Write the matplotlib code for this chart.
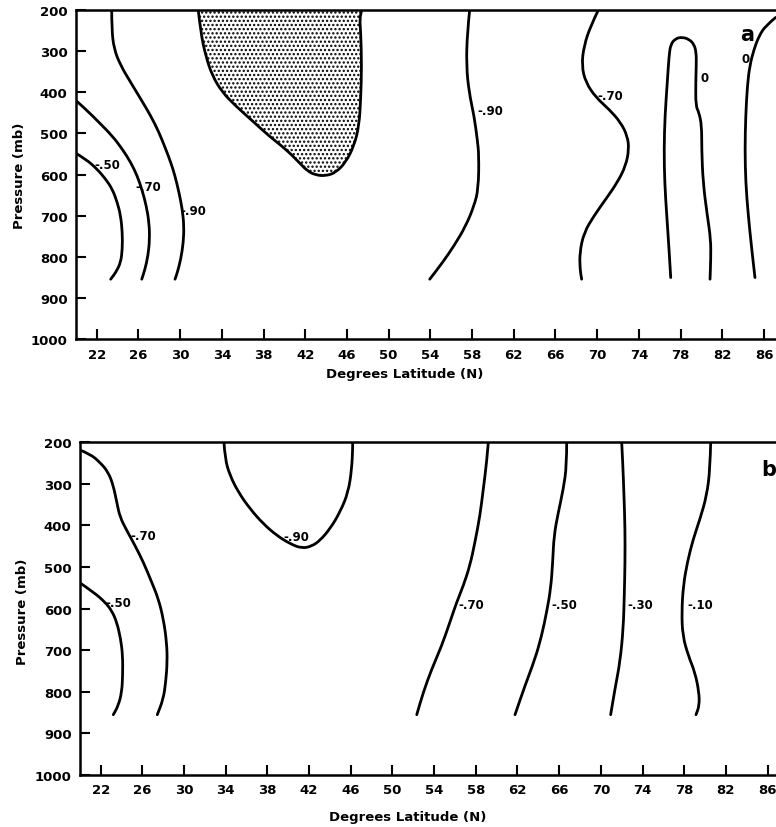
import matplotlib
matplotlib.use("Agg")
import matplotlib.pyplot as plt
from matplotlib.path import Path
from matplotlib.patches import PathPatch

plt.rcParams['font.family'] = 'DejaVu Sans'
plt.rcParams['font.weight'] = 'bold'
plt.rcParams['hatch.linewidth'] = 1.1

# axis ticks
lat_ticks = list(range(22, 87, 4))
p_ticks = list(range(200, 1001, 100))

# ---- panel a : isolines (latitude, pressure mb)
a50_lat = [19.8, 20.95, 22.06, 22.86, 23.5, 23.98, 24.3, 24.46, 24.46, 24.3, 23.82, 23.34]
a50_p = [545, 562, 587, 611, 635, 668, 700, 741, 781, 814, 838, 854]

a70_lat = [19.8, 20.95, 22.22, 23.5, 24.46, 25.26, 25.89, 26.37, 26.76, 27.02, 27.08, 26.92, 26.63, 26.32]
a70_p = [415, 441, 473, 506, 538, 570, 603, 639, 676, 716, 757, 797, 830, 854]

a90w_lat = [23.44, 23.44, 23.66, 24.30, 25.26, 26.22, 27.18, 27.97, 28.62, 29.10, 29.51, 29.89,
            30.21, 30.37, 30.31, 30.06, 29.73, 29.51]
a90w_p = [200, 246, 295, 335, 376, 416, 457, 497, 538, 570, 603, 643, 684, 725, 765, 806, 838, 854]

# shaded core (< -.90)
core_lat = [31.74, 31.97, 32.45, 33.09, 34.05, 35.33, 36.92, 38.52, 40.13, 41.40, 42.20, 43.00,
            43.96, 44.92, 45.88, 46.68, 47.16, 47.32, 47.41, 47.32, 47.22, 47.41]
core_p = [200, 254, 311, 360, 400, 433, 469, 506, 538, 570, 591, 601,
          603, 595, 570, 530, 481, 416, 335, 254, 222, 200]

a90e_lat = [57.77, 57.54, 57.45, 57.71, 58.19, 58.50, 58.66, 58.60, 58.19, 57.39, 56.27, 55.15, 53.94]
a90e_p = [200, 254, 335, 400, 457, 514, 554, 635, 676, 725, 773, 814, 854]

a70e_lat = [70.11, 69.38, 68.73, 68.51, 68.90, 69.86, 71.13, 72.25, 72.89, 73.05, 72.73, 71.93,
            70.81, 69.69, 68.73, 68.32, 68.35, 68.51]
a70e_p = [200, 238, 287, 335, 376, 412, 441, 473, 506, 538, 579, 619, 660, 700, 741, 789, 830, 854]

a0_lat = [77.05, 76.89, 76.67, 76.47, 76.41, 76.50, 76.72, 76.89, 77.05, 77.53, 78.16, 78.80,
          79.28, 79.50, 79.50, 79.45, 79.45, 79.76, 80.02, 80.02, 80.15, 80.56, 80.89, 80.89, 80.82]
a0_p = [850, 781, 700, 619, 538, 457, 376, 311, 283, 269, 266, 271,
        283, 303, 335, 376, 433, 449, 481, 538, 619, 700, 757, 806, 854]

a0e_lat = [87.12, 86.16, 85.52, 85.04, 84.63, 84.40, 84.24, 84.17, 84.24, 84.49, 84.82, 85.13]
a0e_p = [218, 238, 263, 295, 335, 384, 457, 538, 619, 700, 781, 850]

a_labels = ['-.50', '-.70', '-.90', '-.90', '-.70', '0', '0']
a_label_lat = [21.74, 25.74, 30.06, 58.5, 70.0, 79.9, 83.86]
a_label_p = [576, 630, 688, 443, 408, 365, 319]

# ---- panel b
b70w_lat = [19.95, 20.97, 21.93, 22.73, 23.21, 23.54, 23.85, 24.50, 25.29, 26.09, 26.89, 27.53,
            28.01, 28.33, 28.39, 28.24, 28.01, 27.43]
b70w_p = [218, 228, 248, 272, 304, 344, 380, 412, 448, 488, 536, 576, 624, 680, 728, 777, 817, 855]

b50w_lat = [20.01, 21.29, 22.41, 23.06, 23.54, 23.92, 24.11, 24.11, 24.02, 23.69, 23.21]
b50w_p = [538, 560, 584, 605, 632, 673, 713, 761, 801, 833, 855]

b90_lat = [33.83, 33.93, 34.41, 35.21, 36.33, 37.60, 38.89, 40.17, 41.29, 42.25, 43.05, 44.01,
           44.97, 45.76, 46.09, 46.18, 46.18]
b90_p = [200, 240, 280, 320, 360, 396, 424, 444, 455, 450, 436, 408, 368, 320, 264, 216, 200]

b70e_lat = [59.20, 59.04, 58.72, 58.40, 57.92, 57.44, 56.80, 56.17, 55.52, 54.73, 53.77, 52.96, 52.33]
b70e_p = [200, 248, 312, 376, 440, 496, 545, 584, 632, 689, 745, 801, 855]

b50e_lat = [66.72, 66.72, 66.40, 65.92, 65.50, 65.38, 65.19, 64.80, 64.32, 63.68, 62.72, 61.76]
b50e_p = [200, 256, 312, 368, 424, 488, 552, 608, 665, 721, 785, 855]

b30_lat = [72.0, 72.10, 72.22, 72.32, 72.32, 72.25, 72.15, 71.84, 71.36, 70.94]
b30_p = [200, 248, 328, 408, 488, 569, 648, 728, 792, 855]

b10_lat = [80.54, 80.48, 80.16, 79.52, 78.87, 78.30, 77.91, 77.76, 77.85, 78.39, 79.03, 79.42, 79.45, 79.13]
b10_p = [200, 264, 328, 384, 432, 488, 545, 608, 665, 713, 753, 801, 833, 855]

b_labels = ['-.70', '-.50', '-.90', '-.70', '-.50', '-.30', '-.10']
b_label_lat = [24.82, 22.41, 39.52, 56.32, 65.28, 72.58, 78.30]
b_label_p = [424, 586, 427, 590, 590, 590, 590]

W, H = 776, 828
fig = plt.figure(figsize=(W / 100, H / 100), dpi=100)


def setup(ax):
    ax.set_xlim(20, 90)
    ax.set_ylim(1000, 200)
    ax.set_xticks(lat_ticks)
    ax.set_yticks(p_ticks)
    ax.tick_params(direction='in', length=7, width=1.5, labelsize=9.5, pad=6)
    ax.spines['right'].set_visible(False)
    for s in ['left', 'bottom', 'top']:
        ax.spines[s].set_linewidth(1.8)
    for lab in ax.get_xticklabels() + ax.get_yticklabels():
        lab.set_fontweight('bold')


def smooth(x, y):
    # quadratic bezier through the midpoints, read points used as control points
    pts = list(zip(x, y))
    verts = [pts[0]]
    codes = [Path.MOVETO]
    for i in range(1, len(pts) - 1):
        mid = ((pts[i][0] + pts[i + 1][0]) / 2, (pts[i][1] + pts[i + 1][1]) / 2)
        verts += [pts[i], mid]
        codes += [Path.CURVE3, Path.CURVE3]
    verts.append(pts[-1])
    codes.append(Path.LINETO)
    return Path(verts, codes)


def line(ax, x, y):
    ax.add_patch(PathPatch(smooth(x, y), fill=False, edgecolor='black', lw=2.0,
                           capstyle='round', joinstyle='round'))


# panel a
axa = fig.add_axes([75.85 / W, (H - 340.3) / H, 729.9 / W, 329.3 / H])
setup(axa)
axa.add_patch(PathPatch(smooth(core_lat, core_p), facecolor='white', edgecolor='black',
                        hatch='....', linewidth=0))
line(axa, core_lat, core_p)
for x, y in [(a50_lat, a50_p), (a70_lat, a70_p), (a90w_lat, a90w_p), (a90e_lat, a90e_p),
             (a70e_lat, a70e_p), (a0_lat, a0_p), (a0e_lat, a0e_p)]:
    line(axa, x, y)
for t, x, y in zip(a_labels, a_label_lat, a_label_p):
    axa.text(x, y, t, fontsize=8.5, fontweight='bold', ha='left', va='center')
axa.text(84.4, 258, 'a', fontsize=15, fontweight='bold', ha='center', va='center')

# panel b
axb = fig.add_axes([79.86 / W, (H - 776) / H, 729.4 / W, 332.7 / H])
setup(axb)
for x, y in [(b70w_lat, b70w_p), (b50w_lat, b50w_p), (b90_lat, b90_p), (b70e_lat, b70e_p),
             (b50e_lat, b50e_p), (b30_lat, b30_p), (b10_lat, b10_p)]:
    line(axb, x, y)
for t, x, y in zip(b_labels, b_label_lat, b_label_p):
    axb.text(x, y, t, fontsize=8.5, fontweight='bold', ha='left', va='center')
axb.text(86.14, 263, 'b', fontsize=15, fontweight='bold', ha='center', va='center')

# axis titles
fig.text(405 / W, 1 - 375 / H, 'Degrees Latitude (N)', fontsize=9.5, fontweight='bold',
         ha='center', va='center')
fig.text(408 / W, 1 - 818 / H, 'Degrees Latitude (N)', fontsize=9.5, fontweight='bold',
         ha='center', va='center')
fig.text(20 / W, 1 - 176 / H, 'Pressure (mb)', fontsize=9.5, fontweight='bold',
         rotation=90, ha='center', va='center')
fig.text(23 / W, 1 - 612 / H, 'Pressure (mb)', fontsize=9.5, fontweight='bold',
         rotation=90, ha='center', va='center')

fig.savefig('out.png', dpi=100, facecolor='white')
